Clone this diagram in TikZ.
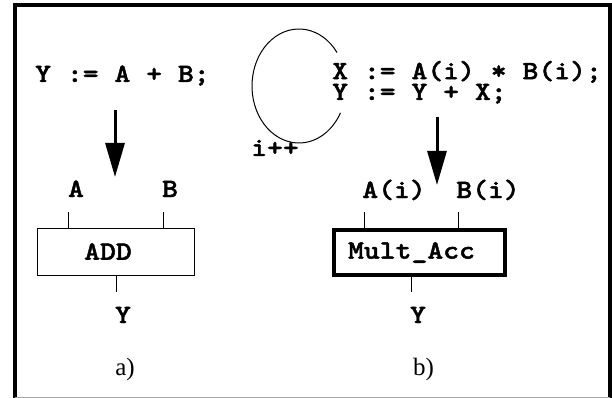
\documentclass[tikz,border=0pt]{standalone}
\usepackage{fontspec}
\setmainfont{Liberation Serif}
\newfontfamily\codefont{lmmonolt10-bold}[Extension=.otf, FakeStretch=1.14, FakeBold=1.6]
\usetikzlibrary{arrows.meta}
\tikzset{
  code/.style={inner sep=0pt, anchor=base west, font=\codefont\fontsize{26.5pt}{19pt}\selectfont, align=left},
  lbl/.style={inner sep=0pt, anchor=base, font=\codefont\fontsize{26.5pt}{19pt}\selectfont},
  captext/.style={inner sep=0pt, anchor=base, font=\fontsize{25pt}{25pt}\selectfont},
  unit/.style={draw, inner sep=0pt, font=\codefont\fontsize{26.5pt}{19pt}\selectfont},
  bigarrow/.style={line width=3pt, -{Triangle[length=34pt,width=19pt]}},
  wire/.style={line width=1pt}
}
\begin{document}
\begin{tikzpicture}[x=1pt,y=-1pt]
\useasboundingbox (0,0) rectangle (612,398);
% frame
\draw[line width=4pt] (15,398) -- (15,5.5) -- (609.5,5.5) -- (609.5,398);
\draw[gray!70, line width=1pt] (15,397.2) -- (609.5,397.2);

% ---- a) ----
\node[code] (codeA) at (35,82) {Y := A + B;};
\coordinate (arAs) at (115,110);
\coordinate (arAe) at (115,177);
\draw[bigarrow] (arAs) -- (arAe);
\node[lbl] (inA) at (76,197) {A};
\node[lbl] (inB) at (170,197) {B};
\node[unit, line width=1pt, minimum width=157pt, minimum height=47pt] (add) at (115.5,251.5) {\hspace*{-15pt}ADD};
\coordinate (tA) at (68,212);
\coordinate (tB) at (163,212);
\coordinate (tY) at (116,292);
\draw[wire] (tA) -- (tA |- add.north);
\draw[wire] (tB) -- (tB |- add.north);
\draw[wire] (add.south -| tY) -- (tY);
\node[lbl] (outY) at (123,323) {Y};
\node[captext] (capA) at (125,375) {a)};

% ---- b) ----
\draw[line width=1pt] (337,52.5) arc[start angle=36, end angle=332, x radius=47pt, y radius=57pt];
\node[code] (ipp) at (251,156) {i++};
\node[code] (codeB) at (332,100) {X := A(i) * B(i);\\Y := Y + X;};
\coordinate (arBs) at (437,117);
\coordinate (arBe) at (437,185);
\draw[bigarrow] (arBs) -- (arBe);
\node[lbl] (inAi) at (394,198) {A(i)};
\node[lbl] (inBi) at (488,198) {B(i)};
\node[unit, line width=4pt, minimum width=171pt, minimum height=45pt] (mac) at (419.5,252.5) {\hspace*{-16pt}Mult\_Acc};
\coordinate (tAi) at (364,212);
\coordinate (tBi) at (458,212);
\coordinate (tYb) at (411,292);
\draw[wire] (tAi) -- (tAi |- mac.north);
\draw[wire] (tBi) -- (tBi |- mac.north);
\draw[wire] (mac.south -| tYb) -- (tYb);
\node[lbl] (outYb) at (418,323) {Y};
\node[captext] (capB) at (423.5,375) {b)};
\end{tikzpicture}
\end{document}
